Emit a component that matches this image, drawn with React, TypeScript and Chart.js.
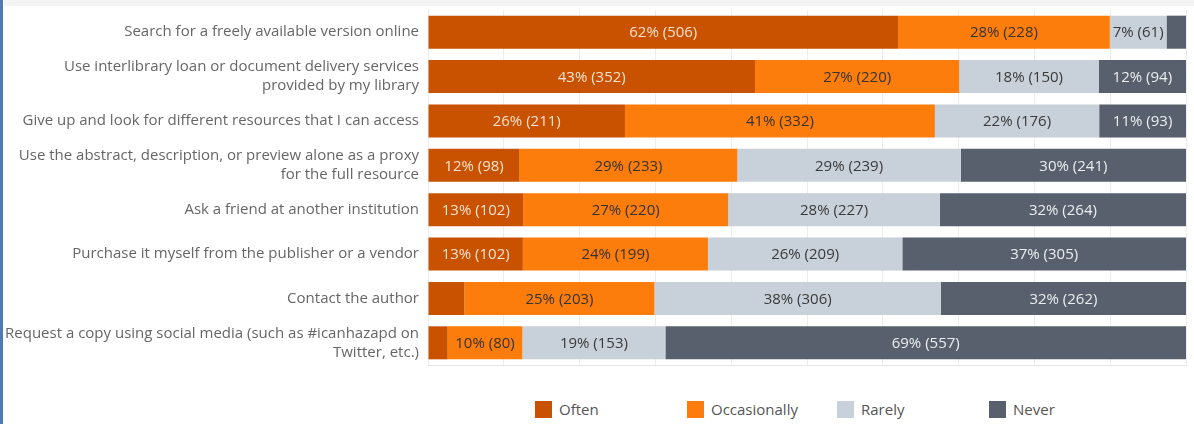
import { useEffect, useRef } from 'react';
import { Chart, registerables } from 'chart.js';

Chart.register(...registerables);

const categories: string[][] = [
  ['Search for a freely available version online'],
  ['Use interlibrary loan or document delivery services', 'provided by my library'],
  ['Give up and look for different resources that I can access'],
  ['Use the abstract, description, or preview alone as a proxy', 'for the full resource'],
  ['Ask a friend at another institution'],
  ['Purchase it myself from the publisher or a vendor'],
  ['Contact the author'],
  ['Request a copy using social media (such as #icanhazapd on', 'Twitter, etc.)'],
];

const seriesNames = ['Often', 'Occasionally', 'Rarely', 'Never'];
const often = [506, 352, 211, 98, 102, 102, 39, 21];
const occasionally = [228, 220, 332, 233, 220, 199, 203, 80];
const rarely = [61, 150, 176, 239, 227, 209, 306, 153];
const never = [21, 94, 93, 241, 264, 305, 262, 557];

const seriesColors = ['#c85200', '#fc7d0b', '#c8d0d9', '#57606c'];
const labelColors = ['#f7e2d2', '#333333', '#3a3a3a', '#eceef0'];

const FONT = '"Open Sans", "Noto Sans", sans-serif';

const seriesCounts = [often, occasionally, rarely, never];
const totals = categories.map((_, i) => seriesCounts.reduce((s, arr) => s + arr[i], 0));

const labelPlugin = {
  id: 'segLabels',
  afterDatasetsDraw(chart: any) {
    const ctx = chart.ctx as CanvasRenderingContext2D;
    ctx.save();
    ctx.font = `15px ${FONT}`;
    ctx.textAlign = 'center';
    ctx.textBaseline = 'middle';
    chart.data.datasets.forEach((_ds: any, di: number) => {
      const meta = chart.getDatasetMeta(di);
      meta.data.forEach((el: any, i: number) => {
        const { x, y, base } = el.getProps(['x', 'y', 'base'], true);
        const w = Math.abs(x - base);
        const count = seriesCounts[di][i];
        const pct = Math.round((count / totals[i]) * 100);
        const text = `${pct}% (${count})`;
        if (ctx.measureText(text).width + 4 > w) return;
        ctx.fillStyle = labelColors[di];
        ctx.fillText(text, (x + base) / 2, y + 1);
      });
    });
    ctx.restore();
  },
};

export default function App() {
  const canvasRef = useRef<HTMLCanvasElement | null>(null);

  useEffect(() => {
    if (!canvasRef.current) return;
    const chart = new Chart(canvasRef.current, {
      type: 'bar',
      data: {
        labels: categories,
        datasets: seriesNames.map((name, di) => ({
          label: name,
          data: seriesCounts[di].map((c, i) => (c / totals[i]) * 100),
          backgroundColor: seriesColors[di],
          borderWidth: 0,
          categoryPercentage: 1,
          barPercentage: 0.745,
        })),
      },
      options: {
        indexAxis: 'y',
        responsive: false,
        animation: false,
        devicePixelRatio: 1,
        layout: { padding: { top: 10, bottom: 15, right: 8, left: 0 } },
        plugins: {
          legend: { display: false },
          tooltip: { enabled: false },
        },
        scales: {
          x: {
            stacked: true,
            min: 0,
            max: 100,
            ticks: { display: false, stepSize: 10 },
            grid: { color: '#ececec', drawTicks: false, lineWidth: 1 },
            border: { display: true, color: '#e6e6e6' },
            afterFit: (scale: any) => {
              scale.height = 0;
              scale.paddingLeft = 0;
              scale.paddingRight = 0;
            },
          },
          y: {
            stacked: true,
            grid: { display: false, drawTicks: false },
            border: { display: false },
            ticks: {
              padding: 9,
              color: '#666666',
              font: { family: FONT, size: 15, lineHeight: 1.27 },
            },
            afterFit: (scale: any) => {
              scale.width = 428;
              scale.paddingTop = 0;
              scale.paddingBottom = 0;
            },
          },
        },
      },
      plugins: [labelPlugin],
    });
    return () => chart.destroy();
  }, []);

  const legendLeft = [535, 687, 837, 989];

  return (
    <div
      style={{
        position: 'absolute',
        left: 0,
        top: 0,
        width: 1194,
        height: 424,
        background: '#ffffff',
        overflow: 'hidden',
        fontFamily: FONT,
      }}
    >
      <canvas
        ref={canvasRef}
        width={1194}
        height={380}
        style={{ position: 'absolute', left: 0, top: 0, width: 1194, height: 380 }}
      />
      <div style={{ position: 'absolute', left: 4, top: 0, right: 0, height: 6, background: '#f3f3f3' }} />
      <div style={{ position: 'absolute', left: 0, top: 0, width: 3, height: 424, background: '#4f7ab3' }} />
      {seriesNames.map((name, i) => (
        <div
          key={name}
          style={{
            position: 'absolute',
            left: legendLeft[i],
            top: 400,
            height: 18,
            display: 'flex',
            alignItems: 'center',
            whiteSpace: 'nowrap',
          }}
        >
          <span style={{ display: 'inline-block', width: 17, height: 17, background: seriesColors[i] }} />
          <span style={{ marginLeft: 7, fontSize: 15, color: '#555555' }}>{name}</span>
        </div>
      ))}
    </div>
  );
}
